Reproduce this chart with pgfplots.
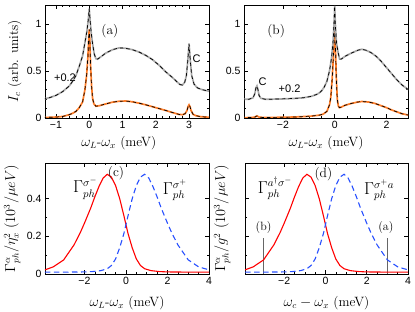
\documentclass[border=0pt]{standalone}
\usepackage{fontspec}
\usepackage{pgfplots}
\usepackage{pgfplotstable}
\pgfplotsset{compat=1.18}
\newfontfamily\hv{Liberation Sans}

\definecolor{myorange}{RGB}{255,125,40}
\definecolor{mygray}{RGB}{170,170,170}
\definecolor{myblue}{RGB}{40,80,255}

% panel (a)
\pgfplotstableread{
x y
-1.40 0.005
-1.20 0.007
-1.00 0.010
-0.80 0.016
-0.60 0.035
-0.50 0.050
-0.40 0.070
-0.30 0.110
-0.20 0.170
-0.13 0.300
-0.08 0.450
-0.04 0.650
-0.015 0.850
0.00 0.940
0.02 0.800
0.04 0.560
0.07 0.340
0.10 0.210
0.14 0.150
0.20 0.125
0.30 0.130
0.50 0.150
0.70 0.168
0.90 0.178
1.10 0.180
1.30 0.172
1.50 0.157
1.70 0.140
1.90 0.120
2.10 0.100
2.30 0.080
2.50 0.058
2.70 0.038
2.80 0.035
2.88 0.045
2.94 0.080
2.97 0.120
3.00 0.140
3.03 0.120
3.06 0.080
3.12 0.040
3.20 0.025
3.35 0.014
3.60 0.008
}\tabAlow
\pgfplotstableread{
x y
-1.40 0.200
-1.20 0.215
-1.00 0.240
-0.80 0.280
-0.60 0.340
-0.50 0.390
-0.40 0.450
-0.30 0.550
-0.20 0.660
-0.13 0.800
-0.07 0.920
-0.03 1.040
0.00 1.160
0.03 1.020
0.06 0.900
0.10 0.790
0.15 0.680
0.20 0.630
0.25 0.625
0.35 0.650
0.50 0.690
0.70 0.725
0.90 0.745
1.10 0.740
1.30 0.725
1.50 0.700
1.70 0.665
1.90 0.620
2.10 0.560
2.30 0.490
2.50 0.430
2.65 0.380
2.73 0.355
2.80 0.350
2.87 0.380
2.92 0.450
2.96 0.600
3.00 0.790
3.04 0.600
3.08 0.450
3.15 0.360
3.25 0.320
3.40 0.300
3.60 0.285
}\tabAup
% panel (b)
\pgfplotstableread{
x y
-3.60 0.003
-3.20 0.005
-3.08 0.010
-3.00 0.022
-2.92 0.010
-2.80 0.006
-2.40 0.006
-2.00 0.008
-1.60 0.010
-1.20 0.015
-0.90 0.020
-0.60 0.030
-0.45 0.040
-0.30 0.070
-0.20 0.140
-0.15 0.220
-0.10 0.400
-0.06 0.600
-0.03 0.800
0.00 0.940
0.03 0.750
0.06 0.450
0.10 0.200
0.14 0.130
0.18 0.110
0.25 0.115
0.40 0.135
0.65 0.155
0.90 0.170
1.05 0.175
1.30 0.170
1.55 0.155
1.80 0.130
2.00 0.110
2.20 0.085
2.40 0.065
2.60 0.045
2.90 0.028
}\tabBlow
\pgfplotstableread{
x y
-3.60 0.197
-3.30 0.200
-3.15 0.215
-3.08 0.260
-3.04 0.320
-3.00 0.340
-2.96 0.300
-2.92 0.240
-2.85 0.210
-2.70 0.200
-2.40 0.200
-2.00 0.203
-1.60 0.207
-1.20 0.215
-0.90 0.230
-0.70 0.250
-0.60 0.265
-0.50 0.290
-0.40 0.330
-0.30 0.390
-0.20 0.500
-0.12 0.640
-0.06 0.820
-0.025 1.000
0.00 1.190
0.03 0.970
0.07 0.800
0.13 0.700
0.19 0.625
0.25 0.625
0.40 0.655
0.65 0.690
0.90 0.720
1.05 0.730
1.20 0.720
1.40 0.695
1.60 0.655
1.80 0.600
2.00 0.535
2.20 0.470
2.40 0.405
2.60 0.350
2.90 0.290
}\tabBup
% panels (c),(d)
\pgfplotstableread{
x y
-3.90 0.022
-3.50 0.038
-3.00 0.075
-2.50 0.155
-2.20 0.220
-2.00 0.270
-1.70 0.350
-1.50 0.410
-1.30 0.465
-1.10 0.510
-0.90 0.530
-0.70 0.515
-0.50 0.470
-0.30 0.400
-0.10 0.310
0.10 0.215
0.30 0.140
0.50 0.080
0.70 0.045
0.90 0.028
1.20 0.018
1.60 0.013
2.00 0.011
3.00 0.010
4.00 0.010
}\tabRed
\pgfplotstableread{
x y
-3.90 0.010
-3.00 0.010
-2.00 0.011
-1.60 0.013
-1.20 0.018
-0.90 0.028
-0.70 0.045
-0.50 0.080
-0.30 0.140
-0.10 0.215
0.10 0.310
0.30 0.400
0.50 0.470
0.70 0.515
0.90 0.530
1.10 0.510
1.30 0.465
1.50 0.410
1.70 0.350
2.00 0.270
2.20 0.220
2.50 0.155
3.00 0.075
3.50 0.038
4.00 0.022
}\tabBlue

\pgfplotsset{
  panel/.style={
    scale only axis,
    axis line style={line width=0.7pt},
    every tick/.style={black, line width=0.5pt},
    major tick length=4pt,
    minor tick length=2pt,
    tick label style={font=\hv\fontsize{10.5}{12}\selectfont},
    label style={font=\fontsize{13.5}{16}\selectfont},
  },
  colline/.style={line width=1.7pt},
  dashline/.style={black, line width=0.7pt, dash pattern=on 3.5pt off 3pt},
}

\begin{document}
\begin{tikzpicture}
\useasboundingbox (0,0) rectangle (415pt,312pt);

% (a)
\begin{axis}[panel, at={(45pt,194pt)}, anchor=south west,
  width=164pt, height=113pt,
  xmin=-1.33, xmax=3.6, ymin=0, ymax=1.2,
  xtick={-1,0,1,2,3}, xticklabels={−1,0,1,2,3},
  ytick={0,0.5,1}, yticklabels={0,0.5,1},
  minor x tick num=4, minor y tick num=4,
  xlabel={$\omega_L$-$\omega_x$ (meV)},
  xlabel style={at={(axis description cs:0.45,-0.22)}, anchor=center},
  ylabel={$I_c$ (arb. units)},
  ylabel style={at={(axis description cs:-0.185,0.5)}, anchor=center},
]
\addplot[colline, myorange] table {\tabAlow};
\addplot[dashline] table {\tabAlow};
\addplot[colline, mygray] table {\tabAup};
\addplot[dashline] table {\tabAup};
\node[font=\fontsize{13.5}{16}\selectfont] at (axis cs:0.62,0.92) {(a)};
\node[font=\hv\fontsize{11}{13}\selectfont] at (axis cs:-0.73,0.43) {+0.2};
\node[font=\hv\fontsize{11}{13}\selectfont] at (axis cs:3.23,0.63) {C};
\end{axis}

% (b)
\begin{axis}[panel, at={(244pt,194pt)}, anchor=south west,
  width=164pt, height=113pt,
  xmin=-3.5, xmax=2.83, ymin=0, ymax=1.2,
  xtick={-2,0,2}, xticklabels={−2,0,2},
  ytick={0,0.5,1}, yticklabels={0,0.5,1},
  minor x tick num=3, minor y tick num=4,
  xlabel={$\omega_L$-$\omega_x$ (meV)},
  xlabel style={at={(axis description cs:0.5,-0.22)}, anchor=center},
]
\addplot[colline, myorange] table {\tabBlow};
\addplot[dashline] table {\tabBlow};
\addplot[colline, mygray] table {\tabBup};
\addplot[dashline] table {\tabBup};
\node[font=\fontsize{13.5}{16}\selectfont] at (axis cs:-2.26,0.92) {(b)};
\node[font=\hv\fontsize{11}{13}\selectfont] at (axis cs:-2.78,0.39) {C};
\node[font=\hv\fontsize{11}{13}\selectfont] at (axis cs:-1.74,0.31) {+0.2};
\end{axis}

% (c)
\begin{axis}[panel, at={(45pt,38pt)}, anchor=south west,
  width=164pt, height=111pt,
  xmin=-3.9, xmax=4, ymin=0, ymax=0.59,
  xtick={-2,0,2,4}, xticklabels={−2,0,2,4},
  ytick={0,0.2,0.4}, yticklabels={0,0.2,0.4},
  minor x tick num=3, minor y tick num=1,
  xlabel={$\omega_L$-$\omega_x$ (meV)},
  xlabel style={at={(axis description cs:0.5,-0.26)}, anchor=center},
  ylabel={$\Gamma^{\alpha}_{ph}/\eta_x^2$ $(10^3/\mu eV)$},
  ylabel style={at={(axis description cs:-0.2,0.5)}, anchor=center},
]
\addplot[red, line width=1.1pt] table {\tabRed};
\addplot[myblue, line width=1.1pt, dash pattern=on 5.5pt off 3.5pt] table {\tabBlue};
\node[font=\fontsize{13.5}{16}\selectfont] at (axis cs:-0.48,0.535) {(c)};
\node[font=\fontsize{16}{18}\selectfont] at (axis cs:-1.96,0.455) {$\Gamma^{\sigma^-}_{ph}$};
\node[font=\fontsize{16}{18}\selectfont] at (axis cs:2.36,0.445) {$\Gamma^{\sigma^+}_{ph}$};
\end{axis}

% (d)
\begin{axis}[panel, at={(245pt,38pt)}, anchor=south west,
  width=163pt, height=111pt,
  xmin=-3.9, xmax=4, ymin=0, ymax=0.59,
  xtick={-2,0,2,4}, xticklabels={−2,0,2,4},
  ytick={0,0.2,0.4}, yticklabels={},
  minor x tick num=3, minor y tick num=1,
  xlabel={$\omega_c-\omega_x$ (meV)},
  xlabel style={at={(axis description cs:0.5,-0.26)}, anchor=center},
  ylabel={$\Gamma^{\alpha}_{ph}/g^2$ $(10^3/\mu eV)$},
  ylabel style={at={(axis description cs:-0.14,0.5)}, anchor=center},
]
\addplot[black!60, line width=1pt] coordinates {(-3,0) (-3,0.19)};
\addplot[black!60, line width=1pt] coordinates {(3,0) (3,0.19)};
\addplot[red, line width=1.1pt] table {\tabRed};
\addplot[myblue, line width=1.1pt, dash pattern=on 5.5pt off 3.5pt] table {\tabBlue};
\node[font=\fontsize{13.5}{16}\selectfont] at (axis cs:-0.1,0.53) {(d)};
\node[font=\fontsize{16}{18}\selectfont] at (axis cs:-2.44,0.455) {$\Gamma^{a^\dagger\sigma^-}_{ph}$};
\node[font=\fontsize{16}{18}\selectfont] at (axis cs:2.6,0.445) {$\Gamma^{\sigma^+a}_{ph}$};
\node[font=\fontsize{12}{14}\selectfont] at (axis cs:-3.0,0.245) {(b)};
\node[font=\fontsize{12}{14}\selectfont] at (axis cs:2.93,0.245) {(a)};
\end{axis}
\end{tikzpicture}
\end{document}
